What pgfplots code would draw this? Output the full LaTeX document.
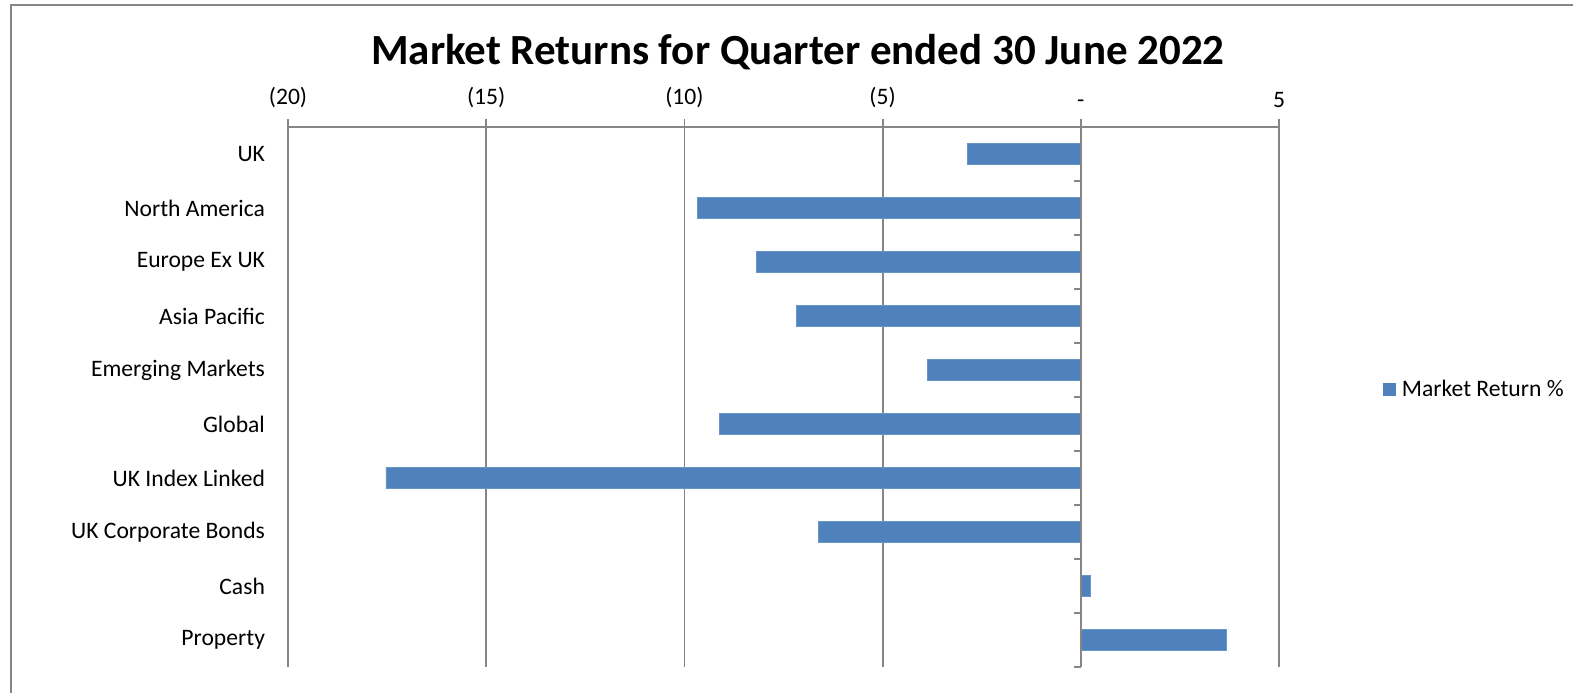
\documentclass[border=0pt]{standalone}
\usepackage{pgfplots}
\pgfplotsset{compat=1.18}
\usepackage{fontspec}
\setmainfont{Carlito}
\definecolor{barblue}{HTML}{4F81BD}
\definecolor{gridgray}{HTML}{868686}
\begin{document}
\begin{tikzpicture}
\useasboundingbox (0,0) rectangle (786.5pt,346.5pt);
\draw[gridgray,line width=1pt] (5.5pt,0) -- (5.5pt,344pt) -- (786.5pt,344pt);
\node[font=\fontsize{21.5pt}{25pt}\selectfont\bfseries] at (399pt,320.5pt) {Market Returns for Quarter ended 30 June 2022};
\begin{axis}[
  at={(144pt,283pt)}, anchor=north west,
  scale only axis, width=495.5pt, height=270pt,
  xbar, bar width=0.4,
  xmin=-20, xmax=5,
  ymin=-0.5, ymax=9.5, y dir=reverse,
  axis x line*=top, axis y line*=left,
  axis line style={gridgray,line width=0.7pt},
  xtick={-20,-15,-10,-5,0,5},
  xticklabels={(20),(15),(10),(5),-,5},
  xmajorgrids, major grid style={gridgray,line width=0.9pt},
  x tick style={gridgray,line width=0.9pt},
  tick align=outside, major tick length=4pt,
  ytick={0,...,9},
  yticklabels={UK,North America,Europe Ex UK,Asia Pacific,Emerging Markets,Global,UK Index Linked,UK Corporate Bonds,Cash,Property},
  y tick style={draw=none},
  ticklabel style={font=\fontsize{11.8pt}{14pt}\selectfont, text=black},
  yticklabel style={anchor=east, xshift=-4pt},
  xticklabel style={yshift=2pt},
  clip=false,
  legend style={at={(1.1,0.514)}, anchor=west, xshift=2.3pt, draw=none, fill=none, font=\fontsize{11.8pt}{14pt}\selectfont, legend cell align=left, inner sep=0pt},
  legend image code/.code={\fill[barblue] (-3.5pt,-3pt) rectangle (2.5pt,3pt);},
  legend style={nodes={inner xsep=3pt}},
]
\addplot[fill=barblue, draw=barblue!85!white] coordinates {
  (-2.87,0) (-9.67,1) (-8.19,2) (-7.18,3) (-3.88,4)
  (-9.12,5) (-17.53,6) (-6.62,7) (0.23,8) (3.68,9)
};
\addlegendentry{Market Return \%}
\draw[gridgray,line width=0.9pt] (axis cs:0,-0.5) ++(0pt,4pt) -- (axis cs:0,9.5);
\pgfplotsinvokeforeach{-0.5,0.5,1.5,2.5,3.5,4.5,5.5,6.5,7.5,8.5,9.5}{
  \draw[gridgray,line width=0.9pt] (axis cs:0,#1) -- ++(-3.5pt,0pt);
}
\end{axis}
\end{tikzpicture}
\end{document}
